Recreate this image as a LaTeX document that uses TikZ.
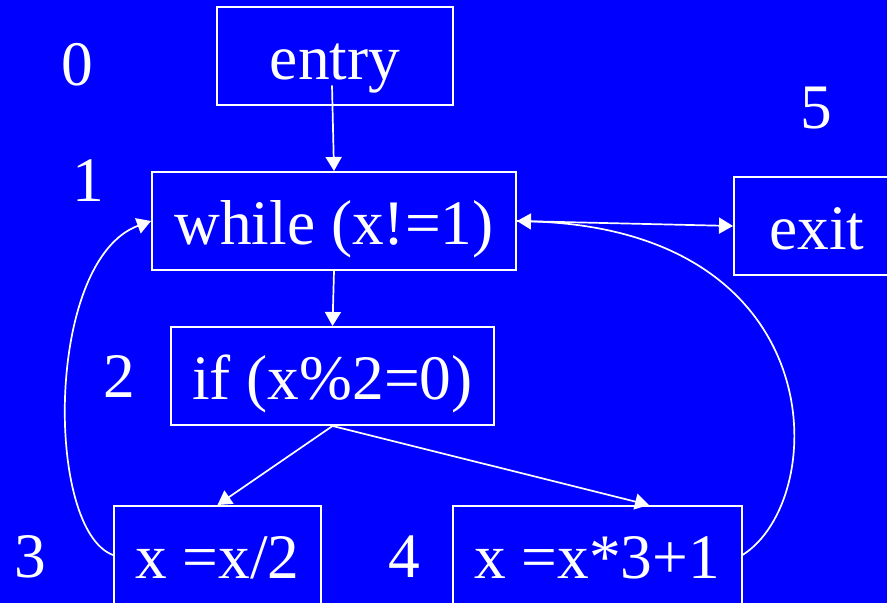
\documentclass[tikz,border=0pt]{standalone}
\usepackage{fontspec}
\setmainfont{Liberation Serif}
\usetikzlibrary{arrows.meta}
\definecolor{slide}{RGB}{0,0,255}

\begin{document}
\begin{tikzpicture}[x=0.5pt,y=-0.5pt,
  box/.style={draw=white,line width=1pt,text=white,font=\fontsize{31.7}{38}\selectfont,
    text height=23.5pt,text depth=0pt,minimum height=49pt,inner sep=0pt},
  num/.style={text=white,font=\fontsize{31.7}{38}\selectfont,inner sep=0pt},
  flow/.style={white,line width=0.85pt,-{Triangle[length=7pt,width=8pt]}}]
\path[use as bounding box] (0,0) rectangle (887,603);
\clip (0,0) rectangle (887,603);
\fill[slide] (0,0) rectangle (887,603);
% blocks
\node[box,minimum width=118pt] (entry) at (335,56.5) {entry};
\node[box,minimum width=182pt] (while) at (334,221) {while (x!=1)};
\node[box,minimum width=83pt] (exit) at (817,226) {exit};
\node[box,minimum width=161.5pt] (if) at (332.5,376) {if (x\%2=0)};
\node[box,minimum width=103.5pt] (half) at (217.5,555) {x =x/2};
\node[box,minimum width=144.5pt] (triple) at (597,555) {x =x*3+1};
% block numbers
\node[num] (n0) at (77,65) {0};
\node[num] (n1) at (88,181) {1};
\node[num] (n5) at (816,108) {5};
\node[num] (n2) at (119,377) {2};
\node[num] (n3) at (30,557) {3};
\node[num] (n4) at (404,557) {4};
% edges
\draw[flow] ([xshift=-1.5pt,yshift=10.5pt]entry.south) -- (while.north);
\draw[flow] (while.south) -- (if.north);
\draw[flow] (while.east) -- (exit.west);
\draw[flow] (if.south) -- (half.north);
\draw[flow] (if.south) -- ([xshift=26pt]triple.north);
\draw[flow] (half.west) .. controls (45,530) and (45,260) .. (while.west);
\draw[flow] (triple.east) .. controls (830,500) and (835,230) .. (while.east);
\end{tikzpicture}
\end{document}
